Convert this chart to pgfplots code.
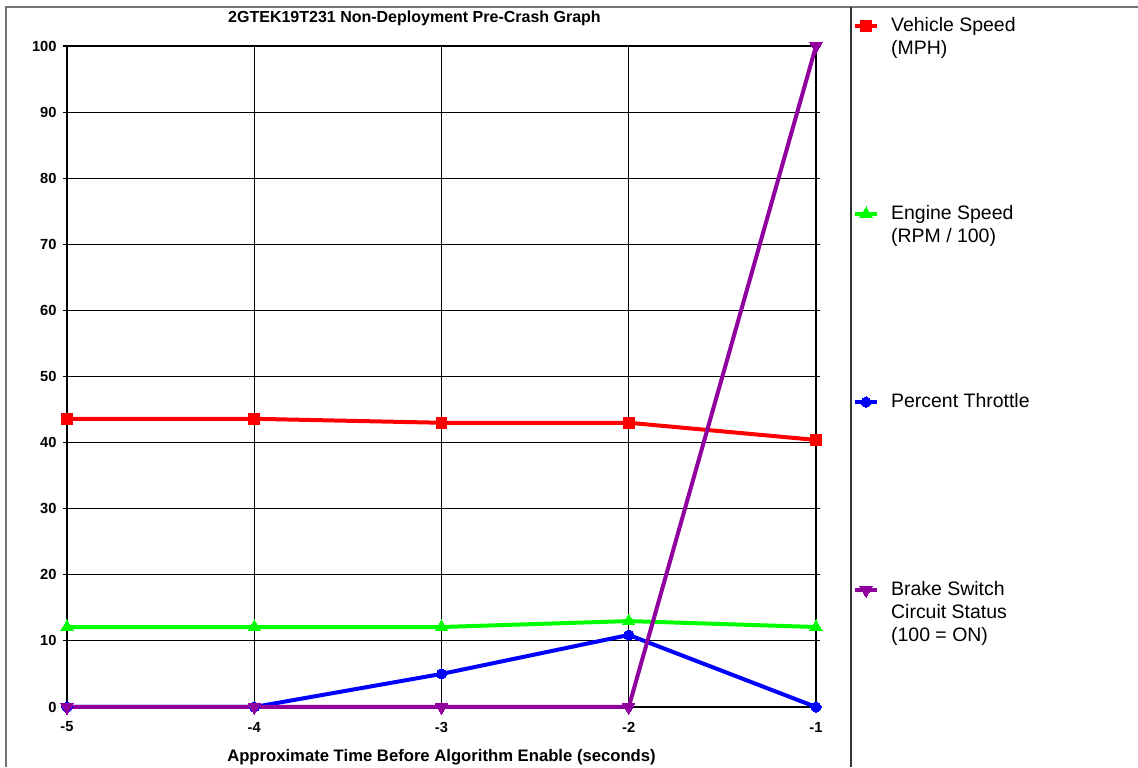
\documentclass[border=0pt]{standalone}
\usepackage{fontspec}
\setmainfont{Liberation Sans}
\usepackage{pgfplots}
\pgfplotsset{compat=1.18}
\definecolor{vsred}{rgb}{1,0,0}
\definecolor{esgreen}{rgb}{0,1,0}
\definecolor{ptblue}{rgb}{0,0,1}
\definecolor{bspurple}{rgb}{0.56,0,0.62}
\newcommand{\legtxt}[2]{\hspace*{3.75pt}\parbox[t][#1][t]{5cm}{\raggedright #2}}
\begin{document}
\begin{tikzpicture}
\useasboundingbox (0,0) rectangle (853.5pt,575.25pt);
\begin{axis}[
  at={(50.25pt,45pt)}, anchor=south west,
  scale only axis, width=561.75pt, height=495.75pt,
  xmin=-5, xmax=-1, ymin=0, ymax=100,
  xtick={-5,-4,-3,-2,-1}, xticklabels={-5,-4,-3,-2,-1},
  ytick={0,10,...,100},
  grid=major, major grid style={black, line width=0.8pt},
  axis line style={black, line width=1.1pt},
  tick align=outside, tick style={black, line width=0.8pt},
  major tick length=3pt,
  xtick style={draw=none},
  ticklabel style={font=\bfseries\fontsize{11}{13}\selectfont},
  /pgf/number format/assume math mode=true,
  xticklabel style={anchor=center, yshift=-12pt},
  yticklabel style={anchor=east, xshift=0pt},
  title={2GTEK19T231 Non-Deployment Pre-Crash Graph},
  title style={font=\bfseries\fontsize{12}{14}\selectfont, at={(0.5,1)}, anchor=center, yshift=15pt, xshift=-20.25pt},
  xlabel={Approximate Time Before Algorithm Enable (seconds)},
  xlabel style={font=\bfseries\fontsize{12.5}{14}\selectfont, at={(0.5,0)}, anchor=center, yshift=-37.5pt},
  clip=false,
  line width=3pt,
  legend image post style={yshift=3.75pt},
  legend style={at={(1.041,1.051)}, anchor=north west, draw=none, fill=none,
    font=\fontsize{14.6}{17.25}\selectfont, row sep=0pt,
    nodes={inner sep=0pt, inner xsep=5pt, text depth=, text height=},
    cells={anchor=base west}},
]
\addplot[vsred, mark=square*, mark size=4pt, mark options={solid, line width=0pt}]
  coordinates {(-5,43.6) (-4,43.6) (-3,43.0) (-2,43.0) (-1,40.4)};
\addlegendentry{\legtxt{141pt}{Vehicle Speed\\(MPH)}}
\addplot[esgreen, mark=triangle*, mark size=5.3pt, mark options={solid, line width=0pt}]
  coordinates {(-5,12.1) (-4,12.1) (-3,12.1) (-2,13.0) (-1,12.1)};
\addlegendentry{\legtxt{141pt}{Engine Speed\\(RPM / 100)}}
\addplot[ptblue, mark=*, mark size=3.8pt, mark options={solid, line width=0pt}]
  coordinates {(-5,0) (-4,0) (-3,5.0) (-2,10.9) (-1,0)};
\addlegendentry{\legtxt{141pt}{Percent Throttle}}
\addplot[bspurple, mark=triangle*, mark size=5.3pt, mark options={solid, line width=0pt, rotate=180}]
  coordinates {(-5,0) (-4,0) (-3,0) (-2,0) (-1,100)};
\addlegendentry{\legtxt{60pt}{Brake Switch\\Circuit Status\\(100 = ON)}}
\end{axis}
\draw[black!55, line width=1.2pt] (4.5pt,0) -- (4.5pt,570pt) -- (853.5pt,570pt);
\draw[black!80, line width=1.5pt] (638.25pt,0) -- (638.25pt,570pt);
\end{tikzpicture}
\end{document}
